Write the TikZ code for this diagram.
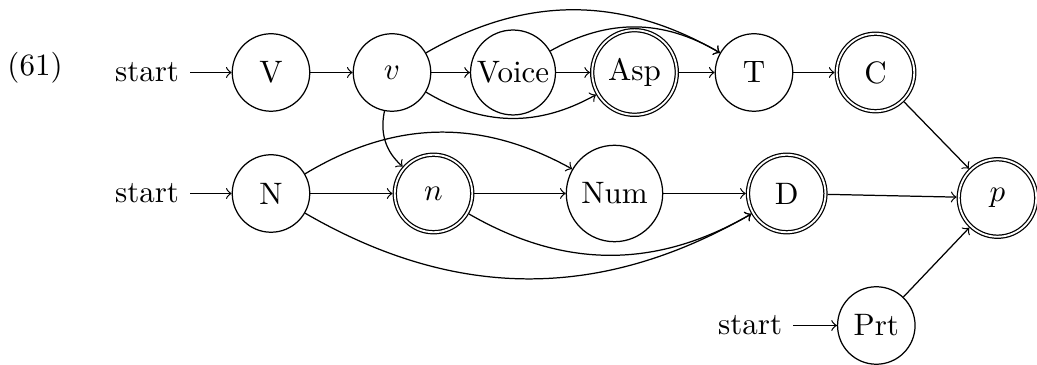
\documentclass[tikz,border=0pt]{standalone}
\begin{document}
\begin{tikzpicture}[x=0.32258pt, y=-0.32258pt,
  st/.style={circle, draw, line width=0.4pt, inner sep=0pt, minimum size=25pt},
  acc/.style={st, double, double distance=0.6pt, outer sep=0.7pt},
  arr/.style={->, line width=0.4pt},
  starttext/.style={anchor=east}]
\useasboundingbox (0,0) rectangle (1037,365);
% example number
\node (ex) at (35,68) {(61)};
% top row
\node[st] (V) at (271,72.5) {V};
\node[st] (v) at (392,72.5) {$v$};
\node[st, minimum size=27.4pt] (Voice) at (513,72.5) {Voice};
\node[acc, minimum size=27.3pt] (Asp) at (634.5,72.5) {Asp};
\node[st] (T) at (754,72.5) {T};
\node[acc] (C) at (875.5,72.5) {C};
% middle row
\node[st] (N) at (271,193.5) {N};
\node[acc] (n) at (433.5,193.5) {$n$};
\node[st, minimum size=31.1pt] (Num) at (614.5,193.5) {Num};
\node[acc] (D) at (786.7,193.5) {D};
\node[acc] (p) at (997.5,198) {$p$};
% bottom
\node[st] (Prt) at (876.3,325.5) {Prt};
% start labels
\node[starttext] (s1) at (190,72.5) {start};
\node[starttext] (s2) at (190,193.5) {start};
\node[starttext] (s3) at (793,325.5) {start};
\draw[arr] (s1) -- (V);
\draw[arr] (s2) -- (N);
\draw[arr] (s3) -- (Prt);
% top row edges
\draw[arr] (V) -- (v);
\draw[arr] (v) -- (Voice);
\draw[arr] (Voice) -- (Asp);
\draw[arr] (Asp) -- (T);
\draw[arr] (T) -- (C);
\draw[arr] (v) to[bend left] (T);
\draw[arr] (Voice) to[bend left] (T);
\draw[arr] (v) to[bend right] (Asp);
\draw[arr] (v) to[bend right] (n);
% middle row edges
\draw[arr] (N) -- (n);
\draw[arr] (n) -- (Num);
\draw[arr] (Num) -- (D);
\draw[arr] (N) to[bend left] (Num);
\draw[arr] (N) to[bend right] (D);
\draw[arr] (n) to[bend right] (D);
% to p
\draw[arr] (C) -- (p);
\draw[arr] (D) -- (p);
\draw[arr] (Prt) -- (p);
\end{tikzpicture}
\end{document}
